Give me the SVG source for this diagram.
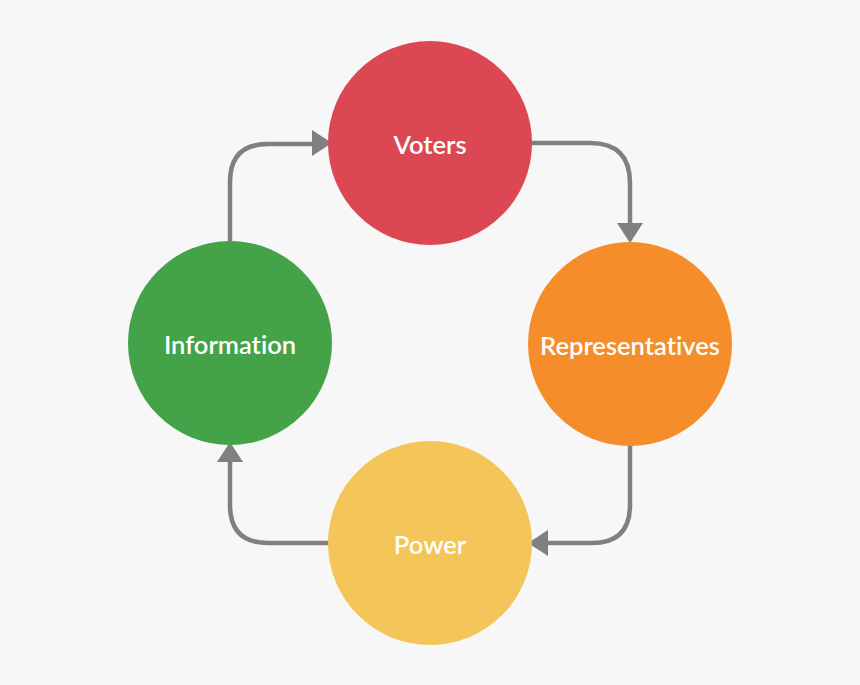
<svg xmlns="http://www.w3.org/2000/svg" width="860" height="685" viewBox="0 0 860 685">
<defs>
<style>
.lbl{font-family:Lato,"Open Sans","Liberation Sans",sans-serif;font-size:25.5px;font-weight:600;fill:#ffffff;text-anchor:middle;font-variant-ligatures:none}
.con{fill:none;stroke:#808080;stroke-width:4.5;stroke-linecap:round}
.ah{fill:#808080}
</style>
</defs>
<rect width="860" height="685" fill="#f7f7f7"/>
<g id="connectors">
<path class="con" d="M531,143 H590 Q630,143 630,183 V224"/>
<polygon class="ah" points="617,223 643,223 630,243"/>
<path class="con" d="M630,443 V505 Q630,543 592,543 H548"/>
<polygon class="ah" points="548,530 548,556 528,543"/>
<path class="con" d="M330,543 H268 Q230,543 230,505 V461"/>
<polygon class="ah" points="217,462 243,462 230,442"/>
<path class="con" d="M230,242 V182 Q230,144 268,144 H312"/>
<polygon class="ah" points="312,130 312,156 332,143"/>
</g>
<g id="voters">
<circle cx="430" cy="143" r="102" fill="#db4753"/>
<text class="lbl" x="430" y="154">Voters</text>
</g>
<g id="representatives">
<circle cx="630" cy="344" r="102" fill="#f68d2b"/>
<text class="lbl" x="630" y="355">Representatives</text>
</g>
<g id="power">
<circle cx="430" cy="543" r="102" fill="#f4c558"/>
<text class="lbl" x="430" y="554">Power</text>
</g>
<g id="information">
<circle cx="230" cy="343" r="102" fill="#44a249"/>
<text class="lbl" x="230" y="354">Information</text>
</g>
</svg>
